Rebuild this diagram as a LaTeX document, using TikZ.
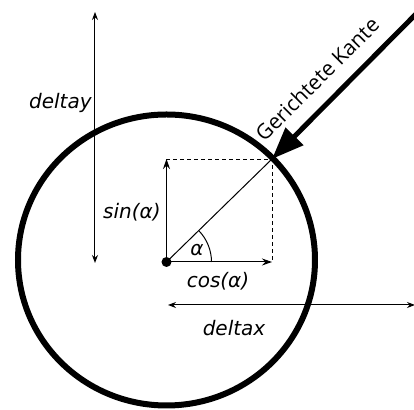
\documentclass[tikz,border=0pt]{standalone}
\usepackage{fontspec}
\setmainfont{DejaVu Sans}
\newfontfamily\kantefont{Open Sans}
\usetikzlibrary{arrows.meta}
\begin{document}
\begin{tikzpicture}[x=0.5pt,y=-0.5pt,
  thinline/.style={line width=0.5pt},
  dim/.style={line width=0.5pt,{Stealth[length=4pt,width=3pt]}-{Stealth[length=4pt,width=3pt]}},
  vec/.style={line width=0.5pt,-{Stealth[length=5pt,width=3.5pt]}},
  lbl/.style={font=\fontsize{10}{12}\selectfont\itshape, inner sep=0pt}]
\useasboundingbox (0,0) rectangle (414,410);
\coordinate (c) at (166.5,262);
\coordinate (o) at (166.5,260);
\coordinate (p) at (272,159);
\coordinate (s) at (166.5,159);
\coordinate (x) at (272,262);
\coordinate (k) at (416,14);
\coordinate (a0) at (211.5,262);
\draw[line width=3pt] (o) ellipse[x radius=148.5, y radius=145.5];
\draw[line width=0.4pt,dash pattern=on 2pt off 1.5pt] (s) -- (p) -- (x);
\draw[thinline] (c) -- (p);
\draw[vec] (c) -- (s);
\draw[vec] (c) -- (x);
\draw[thinline] (a0) arc[start angle=0,end angle=-44,radius=45];
\fill (c) circle[radius=5];
\node[lbl] (alpha) at (197,250) {α};
\node[lbl] (cos) at (218,281) {cos(α)};
\node[lbl,anchor=east] (sin) at (161,212) {sin(α)};
\coordinate (dyt) at (95,12);
\coordinate (dyb) at (95,263);
\draw[dim] (dyt) -- (dyb);
\node[lbl,anchor=east] (dy) at (92,103) {deltay};
\coordinate (dxl) at (168,305);
\coordinate (dxr) at (415,305);
\draw[dim] (dxl) -- (dxr);
\node[lbl] (dx) at (234,328) {deltax};
\draw[line width=2.5pt,-{Triangle[length=16pt,width=12pt]}] (k) -- (p);
\node[font=\kantefont\fontsize{10.5}{12}\selectfont, rotate=45, inner sep=0pt] (kante) at (317,79) {Gerichtete Kante};
\end{tikzpicture}
\end{document}
